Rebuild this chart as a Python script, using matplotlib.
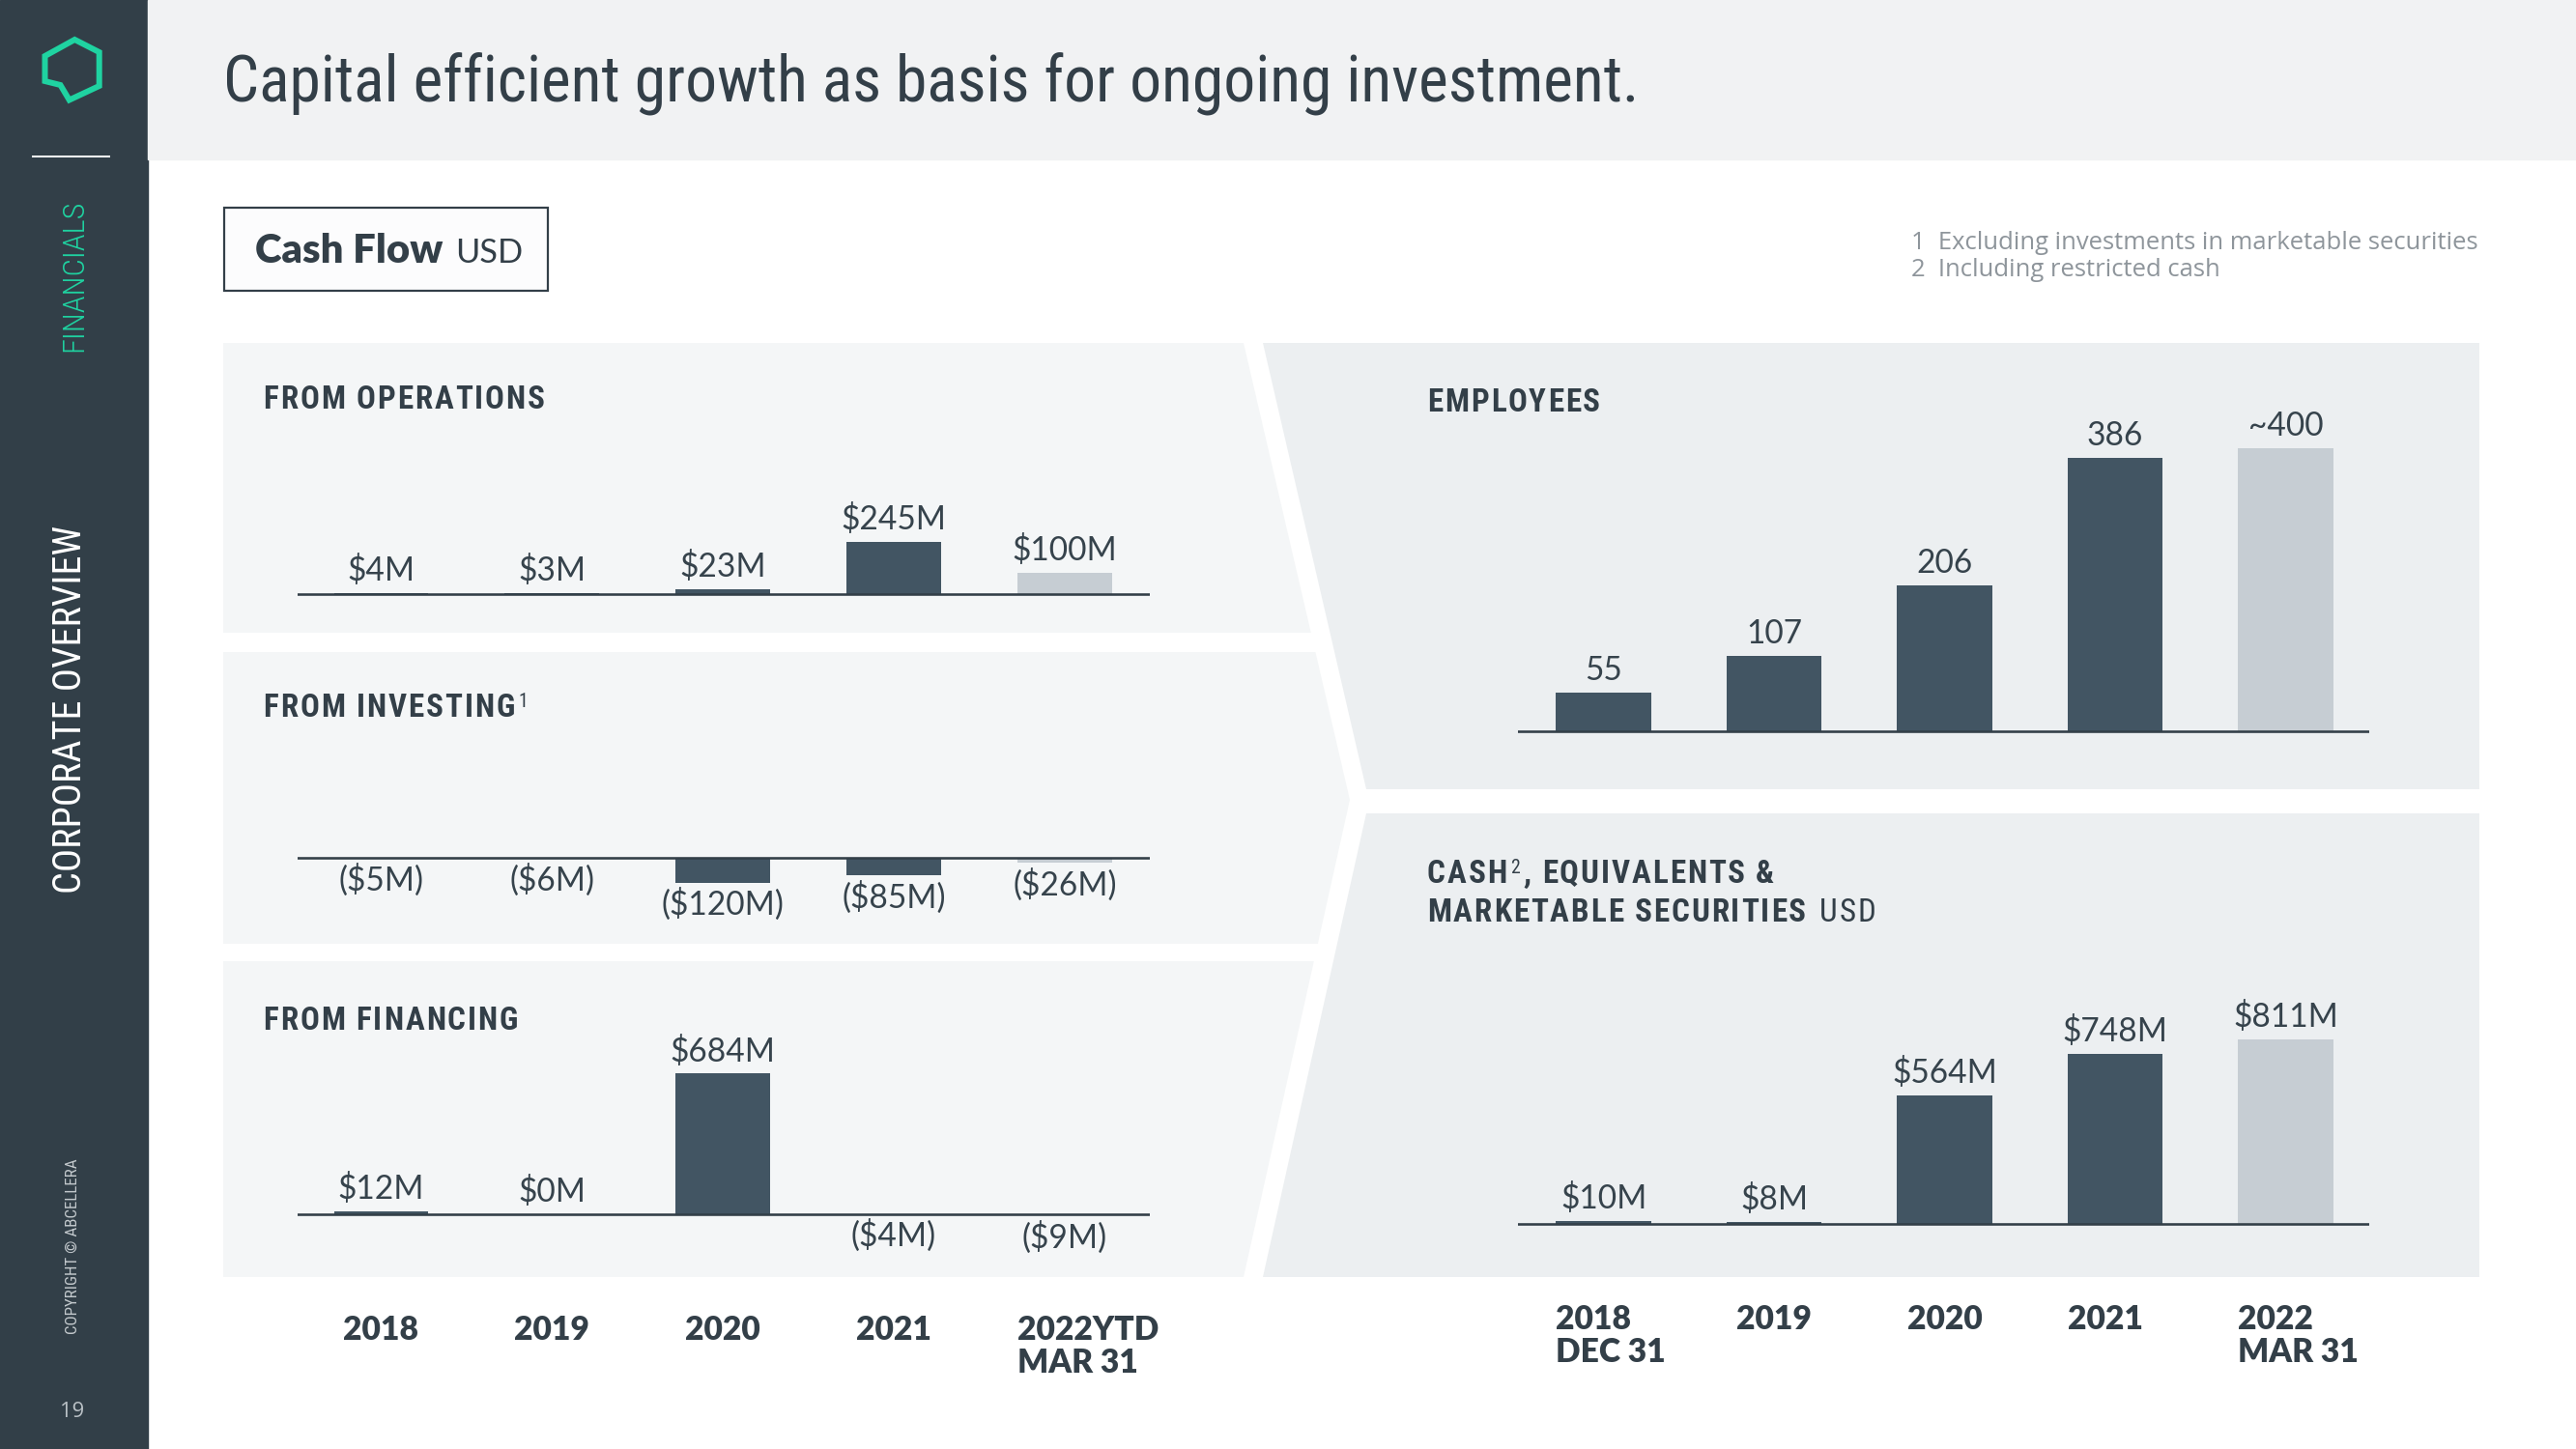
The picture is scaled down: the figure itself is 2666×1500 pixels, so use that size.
import matplotlib
matplotlib.use("Agg")
import matplotlib.pyplot as plt
from matplotlib import font_manager as fm
from matplotlib.patches import Polygon, Rectangle
from matplotlib.textpath import TextPath
from matplotlib.font_manager import FontProperties
from matplotlib.transforms import blended_transform_factory as blend

# ---------------- data ----------------
cf_years = ["2018", "2019", "2020", "2021", "2022YTD\nMAR 31"]
operations = [4, 3, 23, 245, 100]
investing = [-5, -6, -120, -85, -26]
financing = [12, 0, 684, -4, -9]

bs_years = ["2018\nDEC 31", "2019", "2020", "2021", "2022\nMAR 31"]
employees = [55, 107, 206, 386, 400]
employee_labels = ["55", "107", "206", "386", "~400"]
cash = [10, 8, 564, 748, 811]

title = "Capital efficient growth as basis for ongoing investment."
footnotes = ["1  Excluding investments in marketable securities",
             "2  Including restricted cash"]

# ---------------- setup ----------------
W, H = 2666, 1500
fig = plt.figure(figsize=(26.66, 15), dpi=100)
fig.patch.set_facecolor("white")
R = fig.canvas.get_renderer()
PT = 72 / 100.0

names = {f.name for f in fm.fontManager.ttflist}
CONDSTRETCH = ("condensed", "semi-condensed", "extra-condensed", "ultra-condensed")
cond_entries = [(f.name, f.stretch) for f in fm.fontManager.ttflist
                if f.stretch in CONDSTRETCH or "Narrow" in f.name or "Condensed" in f.name]
COND = None
for pref in ["Roboto Condensed", "Liberation Sans Narrow", "DejaVu Sans", "Noto Sans",
             "Open Sans Condensed", "Open Sans", "Roboto"]:
    hits = [e for e in cond_entries if e[0] == pref]
    if hits:
        st = hits[0][1] if hits[0][1] in CONDSTRETCH else "normal"
        COND = dict(family=pref, stretch=st)
        break
if COND is None and cond_entries:
    e = cond_entries[0]
    COND = dict(family=e[0], stretch=e[1] if e[1] in CONDSTRETCH else "normal")
if COND is None:
    COND = dict(family="Roboto" if "Roboto" in names else "DejaVu Sans")

SANS = "Lato" if "Lato" in names else "DejaVu Sans"
NOTE = "Open Sans" if "Open Sans" in names else SANS

SIDEBAR = "#323F48"
TOPBAND = "#F1F2F3"
PANEL_L = "#F4F6F7"
PANEL_R = "#ECEFF1"
DARK = "#425563"
LIGHT = "#C6CDD3"
TEXT = "#333F48"
VALTXT = "#36434C"
GREEN = "#1FD3A1"

bg = fig.add_axes([0, 0, 1, 1])
bg.set_xlim(0, W)
bg.set_ylim(H, 0)
bg.axis("off")


def tw(s, size, **kw):
    t = fig.text(0, 0, s, fontsize=size, **kw)
    w = t.get_window_extent(renderer=R).width
    t.remove()
    return w


def fit(s, target, **kw):
    return 40 * target / tw(s, 40, **kw)


def cap_ratio(**kw):
    fp = FontProperties(family=kw.get("family"), weight=kw.get("weight", "normal"),
                        stretch=kw.get("stretch", "normal"))
    tp = TextPath((0, 0), "H", size=100, prop=fp)
    return tp.get_extents().height / 100.0


# ---------------- background shapes ----------------
bg.add_patch(Rectangle((0, 0), 153, H, color=SIDEBAR, zorder=1))
bg.add_patch(Rectangle((153, 0), W - 153, 165, color=TOPBAND, zorder=1))


def Lx(y):
    if y <= 828:
        return 1287 + (y - 355) * 110 / 473.0
    return 1397 - (y - 828) * 110 / 494.0


def Rx(y):
    return Lx(y) + 20

bg.add_patch(Polygon([(231, 355), (Lx(355), 355), (Lx(655), 655), (231, 655)],
                     closed=True, color=PANEL_L, zorder=1, lw=0))
bg.add_patch(Polygon([(231, 675), (Lx(675), 675), (Lx(828), 828), (Lx(977), 977), (231, 977)],
                     closed=True, color=PANEL_L, zorder=1, lw=0))
bg.add_patch(Polygon([(231, 995), (Lx(995), 995), (Lx(1322), 1322), (231, 1322)],
                     closed=True, color=PANEL_L, zorder=1, lw=0))
bg.add_patch(Polygon([(Rx(355), 355), (2566, 355), (2566, 817), (Rx(817), 817)],
                     closed=True, color=PANEL_R, zorder=1, lw=0))
bg.add_patch(Polygon([(Rx(842), 842), (2566, 842), (2566, 1322), (Rx(1322), 1322)],
                     closed=True, color=PANEL_R, zorder=1, lw=0))

# logo
bg.add_patch(Polygon([(77.3, 41), (102.7, 54), (102.7, 89), (71.7, 103.5),
                      (62.5, 88), (46.5, 84), (46.5, 58)], closed=True, fill=False,
                     edgecolor=GREEN, lw=6 * PT, joinstyle="miter", zorder=3))
bg.plot([34, 113], [162, 162], color="white", lw=2 * PT, zorder=3)

# sidebar texts
s = fit("FINANCIALS", 157, weight="light", **COND)
bg.text(85, 285, "FINANCIALS", rotation=90, rotation_mode="anchor", ha="center",
        va="baseline", fontsize=s, weight="light", color=GREEN, zorder=4, **COND)
s = fit("CORPORATE OVERVIEW", 379, **COND)
bg.text(84, 734, "CORPORATE OVERVIEW", rotation=90, rotation_mode="anchor", ha="center",
        va="baseline", fontsize=s, color="white", zorder=4, **COND)
s = fit("COPYRIGHT © ABCELLERA", 182, **COND)
bg.text(79.5, 1290, "COPYRIGHT © ABCELLERA", rotation=90, rotation_mode="anchor",
        ha="center", va="baseline", fontsize=s, color="#C3C9CD", zorder=4, **COND)
s = fit("19", 25, family=NOTE)
bg.text(75, 1467, "19", ha="center", va="baseline", fontsize=s, color="#BAC1C6",
        family=NOTE, zorder=4)

# title
s = fit(title, 1466, **COND)
bg.text(231, 106, title, ha="left", va="baseline", fontsize=s, color=TEXT, zorder=4, **COND)

# Cash Flow box
bg.add_patch(Rectangle((231.5, 214.5), 335.5, 86.5, facecolor="#FCFCFD", edgecolor=TEXT,
                       lw=2.2 * PT, zorder=3))
s = fit("Cash Flow", 194, family=SANS, weight="heavy")
bg.text(264, 271.5, "Cash Flow", ha="left", va="baseline", fontsize=s, weight="heavy",
        color=TEXT, family=SANS, zorder=4)
s2 = min(s, fit("USD", 70, family=SANS))
bg.text(471.5, 271.5, "USD", ha="left", va="baseline", fontsize=s2, color=TEXT,
        family=SANS, zorder=4)

# footnotes
s = fit(footnotes[0], 586, family=NOTE)
for k, line in enumerate(footnotes):
    bg.text(1977.5, 258.5 + 27 * k, line, ha="left", va="baseline", fontsize=s,
            color="#8E959B", family=NOTE, zorder=4)

# ---------------- headings (tracked) ----------------
HEAD_CAP = 23.5
HEAD = (HEAD_CAP / cap_ratio(weight="bold", **COND)) * PT


def adv(ch, size, weight):
    return tw("H" + ch + "H", size, weight=weight, **COND) - tw("HH", size, weight=weight, **COND)


def natural(s, size, weight):
    return sum(adv(c, size, weight) for c in s)


TRACK = (291 - natural("FROM OPERATIONS", HEAD, "bold")) / 14.0
if TRACK < 1.5:
    HEAD *= (291 - 14 * 3.0) / natural("FROM OPERATIONS", HEAD, "bold")
    HEAD_CAP = cap_ratio(weight="bold", **COND) * HEAD / PT
    TRACK = (291 - natural("FROM OPERATIONS", HEAD, "bold")) / 14.0


def tracked(x, y, s, size=None, weight="bold", color=TEXT):
    size = HEAD if size is None else size
    cur = x
    for ch in s:
        if ch != " ":
            bg.text(cur, y, ch, fontsize=size, weight=weight, color=color, ha="left",
                    va="baseline", zorder=4, **COND)
        cur += adv(ch, size, weight) + TRACK
    return cur - TRACK


def sup(x, y, s):
    bg.text(x + 4, y - HEAD_CAP * 0.42, s, fontsize=HEAD * 0.6, color=TEXT, ha="left",
            va="baseline", zorder=4, **COND)
    return x + 4 + tw(s, HEAD * 0.6, **COND)

tracked(272.5, 422.7, "FROM OPERATIONS")
e = tracked(272.5, 741.5, "FROM INVESTING")
sup(e, 741.5, "1")
tracked(272.5, 1066.5, "FROM FINANCING")
tracked(1477, 426, "EMPLOYEES")
e = tracked(1477, 913.5, "CASH")
e = sup(e, 913.5, "2")
tracked(e + 3, 913.5, ", EQUIVALENTS &")
e = tracked(1477, 954.5, "MARKETABLE SECURITIES")
tracked(e + 14, 954.5, "USD", weight="normal")

# ---------------- bar charts ----------------
VAL = fit("$245M", 109, family=SANS)
YEAR = fit("2020", 78, family=SANS, weight="heavy")
val_cap = cap_ratio(family=SANS) * VAL / PT


def px2fig(x0, y0, x1, y1):
    return [x0 / W, 1 - y1 / H, (x1 - x0) / W, (y1 - y0) / H]


def bar_axes(x0, x1, y0, y1, base, scale, xlim):
    ax = fig.add_axes(px2fig(x0, y0, x1, y1))
    ax.set_xlim(*xlim)
    ax.set_ylim((base - y1) / scale, (base - y0) / scale)
    ax.axis("off")
    ax.axhline(0, color=TEXT, lw=2.6 * PT, zorder=3)
    return ax


def money(v):
    return f"${v}M" if v >= 0 else f"(${-v}M)"


def draw(ax, values, labels, width):
    colors = [DARK] * (len(values) - 1) + [LIGHT]
    ax.bar(range(len(values)), values, width=width, color=colors, zorder=2, linewidth=0)
    for i, (v, lab) in enumerate(zip(values, labels)):
        if v >= 0:
            off = (25 - val_cap / 2) * PT
        else:
            off = -(21 + val_cap / 2) * PT
        ax.annotate(lab, (i, v), xytext=(0, off), textcoords="offset points", ha="center",
                    va="baseline", fontsize=VAL, color=VALTXT, family=SANS,
                    annotation_clip=False)


def year_labels(ax, labels, y0, aligns, width):
    tr = blend(ax.transData, bg.transData)
    for i, (lab, ha) in enumerate(zip(labels, aligns)):
        x = i - width / 2 if ha == "left" else i
        for k, line in enumerate(lab.split("\n")):
            bg.text(x, y0 + 34 * k, line, transform=tr, ha=ha, va="baseline", fontsize=YEAR,
                    weight="heavy", color=TEXT, family=SANS, zorder=4)

LW = 0.552
LXLIM = (-0.489, 4.499)
ax1 = bar_axes(308, 1190, 355, 655, 614.5, 0.217, LXLIM)
draw(ax1, operations, [money(v) for v in operations], LW)
ax2 = bar_axes(308, 1190, 675, 977, 887.6, 0.222, LXLIM)
draw(ax2, investing, [money(v) for v in investing], LW)
ax3 = bar_axes(308, 1190, 995, 1322, 1256.5, 0.212, LXLIM)
draw(ax3, financing, [money(v) for v in financing], LW)
year_labels(ax3, cf_years, 1387, ["center"] * 4 + ["left"], LW)

RW = 0.56
RXLIM = (-0.502, 4.49)
ax4 = bar_axes(1571, 2452, 355, 817, 757, 0.733, RXLIM)
draw(ax4, employees, employee_labels, RW)
ax5 = bar_axes(1571, 2452, 842, 1322, 1266.7, 0.2347, RXLIM)
draw(ax5, cash, [money(v) for v in cash], RW)
year_labels(ax5, bs_years, 1376, ["left", "center", "center", "left", "left"], RW)

fig.savefig("out.png", dpi=100, facecolor="white")
